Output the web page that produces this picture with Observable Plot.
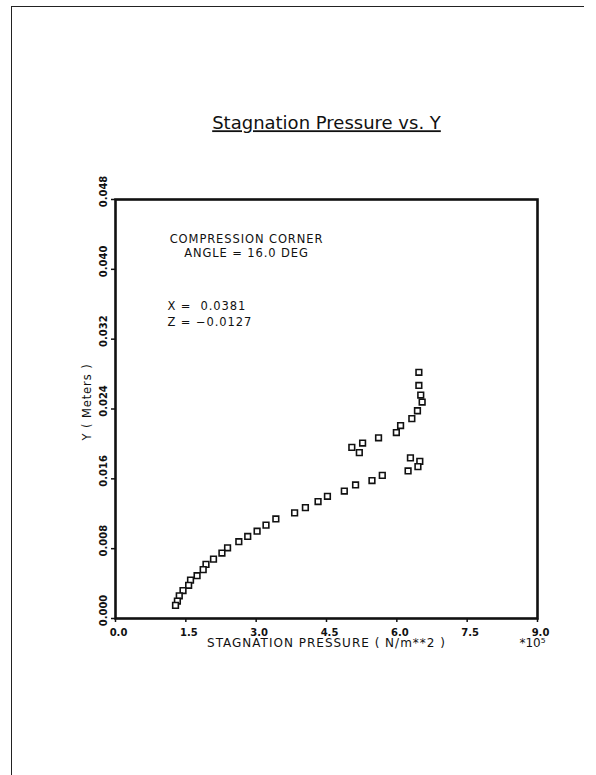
<!DOCTYPE html>
<html>
<head>
<meta charset="utf-8">
<script src="https://cdn.jsdelivr.net/npm/d3@7"></script>
<script src="https://cdn.jsdelivr.net/npm/@observablehq/plot@0.6"></script>
<style>
  html, body { margin: 0; padding: 0; background: #fff; }
  #page { position: relative; width: 596px; height: 775px; overflow: hidden; }
  #border { position: absolute; left: 11px; top: 6px; width: 572px; height: 775px;
            border-top: 1.5px solid #222; border-left: 1.5px solid #222; }
  #chart { position: absolute; left: 0; top: 0; }
  .ann text { letter-spacing: 0.9px; }
  .xlab text { letter-spacing: 1px; }
</style>
</head>
<body>
<div id="page"><div id="border"></div><div id="chart"></div></div>
<script>
// Stagnation pressure (×10^5 N/m**2) and Y (meters)
const pressure = [6.47, 6.47, 6.51, 6.54, 6.44, 6.32, 6.08, 5.99, 5.61, 5.27, 5.04, 5.20,
  6.29, 6.49, 6.45, 6.24, 5.69, 5.47, 5.12, 4.88, 4.52, 4.32, 4.05, 3.82, 3.42, 3.21,
  3.02, 2.82, 2.63, 2.39, 2.27, 2.09, 1.93, 1.87, 1.74, 1.60, 1.56, 1.44, 1.36, 1.32, 1.28];
const yMeters = [0.0282, 0.0267, 0.0256, 0.0248, 0.0238, 0.0229, 0.0221, 0.0213, 0.0207, 0.0201, 0.0196, 0.0190,
  0.0184, 0.0180, 0.0174, 0.0169, 0.0164, 0.0158, 0.0153, 0.0146, 0.0140, 0.0134, 0.0127, 0.0121, 0.0114, 0.0107,
  0.0100, 0.0094, 0.0088, 0.0081, 0.0075, 0.0068, 0.0062, 0.0056, 0.0049, 0.0044, 0.0038, 0.0032, 0.0026, 0.0020, 0.0015];
const xTicks = [0, 1.5, 3.0, 4.5, 6.0, 7.5, 9.0];
const yTicks = [0, 0.008, 0.016, 0.024, 0.032, 0.040, 0.048];
const titleText = "Stagnation Pressure vs. Y";
const xLabel = "STAGNATION PRESSURE ( N/m**2 )";
const xScaleNote = "*10\u2075";
const yLabel = "Y ( Meters )";
const caseLines = ["COMPRESSION CORNER", "ANGLE = 16.0 DEG"];
const coordLines = ["X =  0.0381", "Z = \u22120.0127"];

const data = pressure.map((p, i) => ({p, y: yMeters[i]}));
const font = "DejaVu Sans, sans-serif";

const chart = Plot.plot({
  width: 596, height: 775,
  marginTop: 199, marginBottom: 157, marginLeft: 115, marginRight: 59,
  x: {domain: [0, 9]},
  y: {domain: [0, 0.048]},
  style: {fontFamily: font, background: "transparent", color: "#111"},
  marks: [
    Plot.axisX({ticks: xTicks, tickSize: 4, text: null, label: null, stroke: "#111", strokeWidth: 1.5}),
    Plot.axisX({ticks: xTicks, tickFormat: d3.format(".1f"), tickSize: 0, tickPadding: 10, dx: 3,
      fontSize: 10, fontWeight: "bold", label: null}),
    Plot.axisY({ticks: yTicks, tickSize: 4, text: null, label: null, stroke: "#111", strokeWidth: 1.5}),
    Plot.axisY({ticks: yTicks, tickFormat: d3.format(".3f"), tickSize: 0, tickPadding: 9, dy: -8,
      tickRotate: -90, fontSize: 10, fontWeight: "bold", label: null}),
    Plot.frame({stroke: "#111", strokeWidth: 2.6}),
    Plot.dot(data, {x: "p", y: "y", symbol: "square", r: 3.2, stroke: "#111", strokeWidth: 1.6, fill: "white"}),
    Plot.text([titleText], {frameAnchor: "top", dy: -76, lineAnchor: "middle", fontSize: 18,
      fill: "#111", className: "ttl"}),
    Plot.text([caseLines.join("\n")], {frameAnchor: "top-left", dx: 131, dy: 34, lineAnchor: "top",
      textAnchor: "middle", fontSize: 11.5, lineHeight: 1.22, fill: "#111", className: "ann"}),
    Plot.text([coordLines.join("\n")], {frameAnchor: "top-left", dx: 52, dy: 99, lineAnchor: "top",
      textAnchor: "start", fontSize: 11.5, lineHeight: 1.4, fill: "#111", className: "ann"}),
    Plot.text([xLabel], {frameAnchor: "bottom", dy: 25, lineAnchor: "middle", fontSize: 12,
      fill: "#111", className: "xlab"}),
    Plot.text([xScaleNote], {frameAnchor: "bottom-right", dx: 8, dy: 25, lineAnchor: "middle",
      textAnchor: "end", fontSize: 12, fill: "#111"}),
    Plot.text([yLabel], {frameAnchor: "left", dx: -28, dy: -7, rotate: -90, lineAnchor: "middle",
      textAnchor: "middle", fontSize: 11.5, fill: "#111", className: "ann"})
  ]
});
chart.querySelectorAll(".ttl text").forEach(t => t.setAttribute("text-decoration", "underline"));
document.getElementById("chart").appendChild(chart);
</script>
</body>
</html>
